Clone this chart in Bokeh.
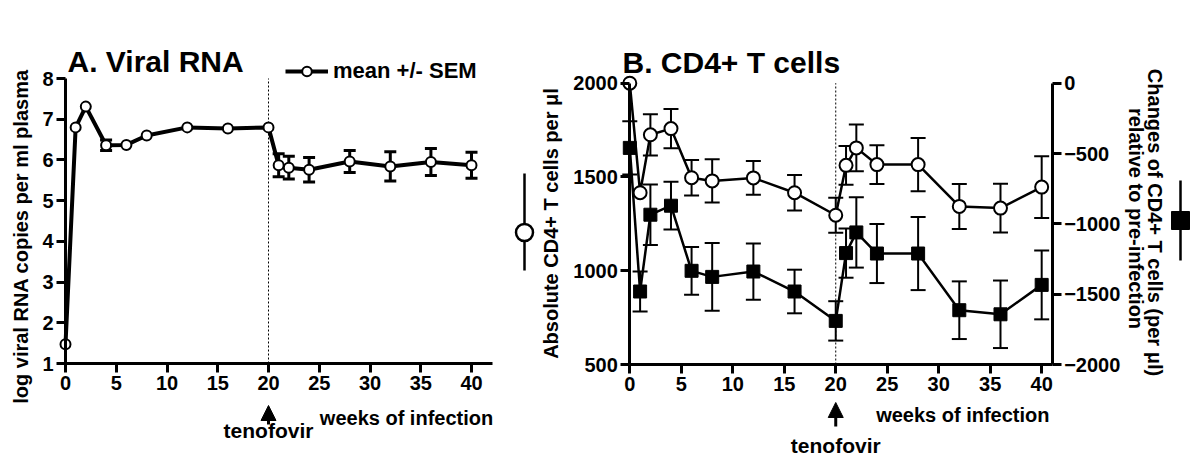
from bokeh.plotting import figure
from bokeh.layouts import row
from bokeh.models import (Range1d, LinearAxis, FixedTicker, ColumnDataSource, Whisker,
                          TeeHead, Label, Arrow, NormalHead, Legend, LegendItem)
from bokeh.embed import file_html
from bokeh.resources import INLINE

# ---------------- data ----------------
weeks = [0, 1, 2, 4, 6, 8, 12, 16, 20, 21, 22, 24, 28, 32, 36, 40]
rna_mean = [1.47, 6.80, 7.31, 6.36, 6.37, 6.60, 6.80, 6.77, 6.80, 5.87, 5.81, 5.76, 5.96, 5.84, 5.95, 5.87]
rna_sem = [0, 0, 0, 0.13, 0, 0, 0, 0, 0, 0.28, 0.28, 0.30, 0.27, 0.36, 0.33, 0.32]

cd4_abs_mean = [2000, 1416, 1725, 1758, 1496, 1479, 1495, 1416, 1296, 1562, 1655, 1566, 1566, 1343, 1334, 1446]
cd4_abs_sem = [0, 0, 110, 105, 95, 115, 90, 95, 93, 103, 125, 103, 142, 120, 130, 165]

cd4_change_mean = [-460, -1481, -935, -871, -1334, -1377, -1339, -1481, -1690, -1208, -1061, -1211, -1211, -1614, -1643, -1434]
cd4_change_sem = [190, 143, 215, 170, 170, 240, 200, 155, 140, 175, 250, 210, 260, 205, 240, 245]

week_ticks = [0, 5, 10, 15, 20, 25, 30, 35, 40]
rna_ticks = [1, 2, 3, 4, 5, 6, 7, 8]
abs_ticks = [500, 1000, 1500, 2000]
change_ticks = [-2000, -1500, -1000, -500, 0]
TENOFOVIR_WEEK = 20

FONT = "Liberation Sans"
H = 457


def style_axis(axis, ticks):
    axis.ticker = FixedTicker(ticks=ticks)
    axis.axis_line_width = 3
    axis.axis_line_color = "black"
    axis.major_tick_line_width = 3
    axis.major_tick_line_color = "black"
    axis.major_tick_out = 9
    axis.major_tick_in = 0
    axis.minor_tick_line_color = None
    axis.major_label_text_font = FONT
    axis.major_label_text_font_style = "bold"
    axis.major_label_text_font_size = "20px"
    axis.major_label_text_color = "black"
    axis.major_label_standoff = 3


def label(p, x, y, text, size, align="left", baseline="alphabetic", angle=0):
    p.add_layout(Label(x=x, y=y, text=text, text_font=FONT, text_font_style="bold",
                       text_font_size=size, text_align=align, text_baseline=baseline,
                       text_color="black", angle=angle, angle_units="deg"))


def err_source(xs, means, sems):
    keep = [i for i, s in enumerate(sems) if s > 0]
    return ColumnDataSource(dict(
        x=[xs[i] for i in keep],
        lower=[means[i] - sems[i] for i in keep],
        upper=[means[i] + sems[i] for i in keep]))


def bare_figure(width, xr, yr):
    p = figure(width=width, height=H, output_backend="svg", toolbar_location=None, title=None,
               x_range=xr, y_range=yr, min_border=0, min_border_left=0, min_border_right=0,
               min_border_top=0, min_border_bottom=0)
    p.outline_line_color = None
    p.grid.visible = False
    p.background_fill_color = "white"
    p.border_fill_color = "white"
    return p


# ---------------- panel A geometry (page pixels) ----------------
A_LEFT, A_W = 0, 508
A_X0, A_PXW = 65.0, 10.15      # page x of week 0, px per week
A_Y1, A_PXU = 363.0, 40.71     # page y of log=1, px per log unit
A_XEND = 492.0                 # page x where the x axis ends


def ax(px):
    return (px - A_X0) / A_PXW


def ay(py):
    return rna_ticks[0] + (A_Y1 - py) / A_PXU


pA = bare_figure(A_W, Range1d(ax(A_LEFT), ax(A_LEFT + A_W)), Range1d(ay(H), ay(0)))
style_axis(pA.xaxis[0], week_ticks)
style_axis(pA.yaxis[0], rna_ticks)
pA.yaxis[0].fixed_location = 0
pA.yaxis[0].bounds = (rna_ticks[0] - 0.04, rna_ticks[-1])
pA.xaxis[0].fixed_location = rna_ticks[0]
pA.xaxis[0].bounds = (0, ax(A_XEND))

pA.segment(x0=[TENOFOVIR_WEEK], y0=[rna_ticks[0]], x1=[TENOFOVIR_WEEK], y1=[rna_ticks[-1]],
           line_dash="2 2", line_width=1, color="black")

srcA = ColumnDataSource(dict(week=weeks, mean=rna_mean))
pA.add_layout(Whisker(source=err_source(weeks, rna_mean, rna_sem), base="x", lower="lower",
                      upper="upper", dimension="height", line_width=3, line_color="black",
                      upper_head=TeeHead(size=12, line_width=3, line_color="black"),
                      lower_head=TeeHead(size=12, line_width=3, line_color="black")))
lineA = pA.line("week", "mean", source=srcA, line_width=4, color="black")
circA = pA.scatter("week", "mean", source=srcA, marker="circle", size=10, line_width=2,
                   line_color="black", fill_color="white")

legA = Legend(items=[LegendItem(label="mean +/- SEM", renderers=[lineA, circA])],
              location=(285 - A_LEFT, H - 84), padding=0, margin=0, spacing=0, glyph_width=43,
              glyph_height=24, label_height=24, label_standoff=5,
              label_text_font=FONT, label_text_font_style="bold", label_text_font_size="22px",
              label_text_color="black", border_line_color=None, background_fill_alpha=0)
pA.add_layout(legA)

label(pA, ax(67), ay(61), "A. Viral RNA", "30px")
label(pA, ax(20), ay(236), "log viral RNA copies per ml plasma", "20px", align="center",
      baseline="middle", angle=90)
label(pA, ax(492.7), ay(417), "weeks of infection", "20px", align="right")
label(pA, TENOFOVIR_WEEK, ay(430), "tenofovir", "21px", align="center")
pA.add_layout(Arrow(x_start=TENOFOVIR_WEEK, y_start=ay(424), x_end=TENOFOVIR_WEEK, y_end=ay(405),
                    line_width=3, line_color="black",
                    end=NormalHead(size=15, fill_color="black", line_color="black", line_width=1)))

# ---------------- panel B geometry (page pixels) ----------------
B_LEFT, B_W = 508, 692
B_X0, B_PXW = 629.3, 10.297     # page x of week 0, px per week
B_YB = 364.0                     # page y of the x axis (500 / -2000)
B_PXU = 281.3 / 1500.0           # px per cell/ul (left)
B_RPXU = 281.3 / 2000.0          # px per cell/ul (right)
B_XEND = 1051.7                  # page x of the right axis


def bx(px):
    return (px - B_X0) / B_PXW


def by(py):
    return abs_ticks[0] + (B_YB - py) / B_PXU


def byr(py):
    return change_ticks[0] + (B_YB - py) / B_RPXU


pB = bare_figure(B_W, Range1d(bx(B_LEFT), bx(B_LEFT + B_W)), Range1d(by(H), by(0)))
pB.extra_y_ranges = {"chg": Range1d(byr(H), byr(0))}
style_axis(pB.xaxis[0], week_ticks)
style_axis(pB.yaxis[0], abs_ticks)
pB.yaxis[0].fixed_location = 0
pB.yaxis[0].bounds = (abs_ticks[0], abs_ticks[-1])
pB.xaxis[0].fixed_location = abs_ticks[0]
pB.xaxis[0].bounds = (0, bx(B_XEND))
rax = LinearAxis(y_range_name="chg")
style_axis(rax, change_ticks)
rax.fixed_location = bx(B_XEND)
rax.bounds = (change_ticks[0], change_ticks[-1])
pB.add_layout(rax, "right")

pB.segment(x0=[TENOFOVIR_WEEK], y0=[abs_ticks[0]], x1=[TENOFOVIR_WEEK], y1=[abs_ticks[-1]],
           line_dash="2 2", line_width=1, color="black")

srcAbs = ColumnDataSource(dict(week=weeks, mean=cd4_abs_mean))
srcChg = ColumnDataSource(dict(week=weeks, mean=cd4_change_mean))
for m, s, rn in ((cd4_abs_mean, cd4_abs_sem, "default"), (cd4_change_mean, cd4_change_sem, "chg")):
    pB.add_layout(Whisker(source=err_source(weeks, m, s), base="x", lower="lower", upper="upper",
                          dimension="height", line_width=2, line_color="black", y_range_name=rn,
                          upper_head=TeeHead(size=15, line_width=2, line_color="black"),
                          lower_head=TeeHead(size=15, line_width=2, line_color="black")))
pB.line("week", "mean", source=srcAbs, line_width=2.5, color="black")
pB.line("week", "mean", source=srcChg, line_width=2.5, color="black", y_range_name="chg")
pB.scatter("week", "mean", source=srcAbs, marker="circle", size=13, line_width=2,
           line_color="black", fill_color="white")
pB.scatter("week", "mean", source=srcChg, marker="square", size=13, line_width=1,
           line_color="black", fill_color="black", y_range_name="chg")

# series keys beside the axis titles
pB.segment(x0=[bx(524)], y0=[by(173)], x1=[bx(524)], y1=[by(270)], line_width=2.5, color="black")
pB.scatter(x=[bx(524)], y=[by(232)], marker="circle", size=17, line_width=2.5,
           line_color="black", fill_color="white")
pB.segment(x0=[bx(1180)], y0=[by(180)], x1=[bx(1180)], y1=[by(260)], line_width=2.5, color="black")
pB.scatter(x=[bx(1180)], y=[by(220)], marker="square", size=18, line_width=1,
           line_color="black", fill_color="black")

label(pB, bx(622), by(62), "B. CD4+ T cells", "30px")
label(pB, bx(550), by(223), "Absolute CD4+ T cells per \u03bcl", "20px", align="center",
      baseline="middle", angle=90)
label(pB, bx(1154), by(222), "Changes of CD4+ T cells (per \u03bcl)", "20px", align="center",
      baseline="middle", angle=-90)
label(pB, bx(1135), by(218), "relative to pre-infection", "20px", align="center",
      baseline="middle", angle=-90)
label(pB, bx(1049), by(414.3), "weeks of infection", "20px", align="right")
label(pB, TENOFOVIR_WEEK, by(445), "tenofovir", "21px", align="center")
pB.add_layout(Arrow(x_start=TENOFOVIR_WEEK, y_start=by(426), x_end=TENOFOVIR_WEEK, y_end=by(402),
                    line_width=3, line_color="black",
                    end=NormalHead(size=15, fill_color="black", line_color="black", line_width=1)))

layout = row(pA, pB)
open("out.html", "w").write(file_html(layout, INLINE))
